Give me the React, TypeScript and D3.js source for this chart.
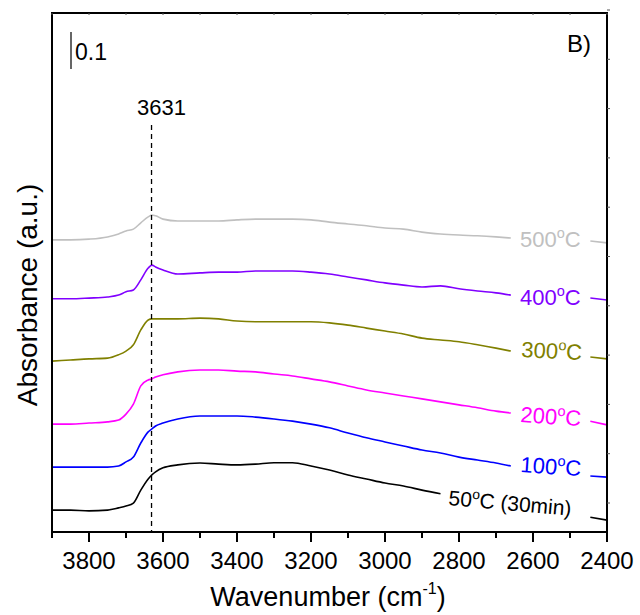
import React from "react";
import * as d3 from "d3";

// Wavenumber grid (cm-1) shared by all spectra
const wavenumbers = [3900, 3850, 3800, 3750, 3720, 3700, 3680, 3660, 3640, 3630, 3620, 3600, 3560, 3500, 3450, 3400, 3350, 3300, 3250, 3200, 3150, 3100, 3050, 3000, 2950, 2900, 2850, 2800, 2750, 2700, 2660];
const tailWavenumbers = [2445, 2400];

const seriesNames = ["500", "400", "300", "200", "100", "50"];
const seriesSuffix = ["", "", "", "", "", " (30min)"];
const seriesColors = ["#c0c0c0", "#8000ff", "#808000", "#ff00ff", "#0000ff", "#000000"];

const abs500 = [0.788, 0.788, 0.790, 0.796, 0.804, 0.812, 0.817, 0.834, 0.850, 0.855, 0.853, 0.844, 0.839, 0.839, 0.839, 0.842, 0.844, 0.844, 0.844, 0.842, 0.836, 0.831, 0.826, 0.820, 0.817, 0.809, 0.804, 0.801, 0.799, 0.796, 0.793];
const abs400 = [0.629, 0.629, 0.631, 0.634, 0.639, 0.648, 0.653, 0.680, 0.712, 0.720, 0.715, 0.707, 0.696, 0.699, 0.701, 0.701, 0.704, 0.704, 0.704, 0.701, 0.696, 0.688, 0.680, 0.672, 0.666, 0.661, 0.664, 0.656, 0.650, 0.645, 0.639];
const abs300 = [0.461, 0.464, 0.467, 0.469, 0.478, 0.488, 0.505, 0.545, 0.572, 0.575, 0.575, 0.575, 0.575, 0.577, 0.575, 0.569, 0.567, 0.567, 0.567, 0.567, 0.564, 0.558, 0.550, 0.542, 0.534, 0.523, 0.518, 0.513, 0.505, 0.496, 0.488];
const abs200 = [0.291, 0.291, 0.294, 0.297, 0.302, 0.318, 0.345, 0.394, 0.410, 0.413, 0.418, 0.424, 0.432, 0.437, 0.437, 0.434, 0.432, 0.426, 0.421, 0.413, 0.405, 0.394, 0.383, 0.375, 0.367, 0.359, 0.351, 0.343, 0.335, 0.326, 0.321];
const abs100 = [0.175, 0.175, 0.175, 0.175, 0.178, 0.189, 0.202, 0.240, 0.270, 0.278, 0.286, 0.294, 0.305, 0.313, 0.313, 0.313, 0.310, 0.305, 0.299, 0.291, 0.281, 0.267, 0.254, 0.243, 0.232, 0.221, 0.213, 0.202, 0.194, 0.186, 0.178];
const abs50 = [0.059, 0.059, 0.057, 0.059, 0.065, 0.070, 0.078, 0.113, 0.143, 0.154, 0.162, 0.173, 0.181, 0.186, 0.183, 0.181, 0.183, 0.187, 0.187, 0.178, 0.167, 0.154, 0.143, 0.132, 0.124, 0.113, 0.103, null, null, null, null];

const tail500 = [0.785, 0.780];
const tail400 = [0.631, 0.626];
const tail300 = [0.472, 0.467];
const tail200 = [0.299, 0.289];
const tail100 = [0.151, 0.148];
const tail50 = [0.040, 0.032];

const xTicksMajor = [3800, 3600, 3400, 3200, 3000, 2800, 2600, 2400];
const xTicksMinor = [3900, 3700, 3500, 3300, 3100, 2900, 2700, 2500];
const peakWavenumber = 3631;
const scaleBarValue = 0.1;

const allValues = [abs500, abs400, abs300, abs200, abs100, abs50];
const allTails = [tail500, tail400, tail300, tail200, tail100, tail50];

// layout
const W = 640, H = 615;
const left = 52, right = 607, top = 13, bottom = 532;
const FONT = "Liberation Sans, Arial, sans-serif";
// label layout: [x, baseline y, rotation, font size]
const labelLayout: [number, number, number, number][] = [
  [520, 247, 0, 22],
  [520, 305, 0, 22],
  [521, 357, 3, 22],
  [520, 422, 4, 22],
  [520, 472, 4, 22],
  [448, 505, 5, 21],
];

export default function App() {
  const x = d3.scaleLinear().domain([3900, 2400]).range([left, right]);
  const y = d3.scaleLinear().domain([0, 1.4]).range([bottom, top]);

  const line = d3
    .line<[number, number | null]>()
    .defined((d) => d[1] !== null)
    .x((d) => x(d[0]))
    .y((d) => y(d[1] as number))
    .curve(d3.curveMonotoneX);

  const rightTicks = d3.range(0, 11).map((i) => bottom - 29 - i * 49.3);

  return (
    <svg width={W} height={H} style={{ position: "absolute", left: 0, top: 0, background: "#fff" }} fontFamily={FONT}>
      {/* spectra */}
      {allValues.map((vals, i) => (
        <g key={i}>
          <path
            d={line(wavenumbers.map((w, j) => [w, vals[j]]) as any) || ""}
            fill="none"
            stroke={seriesColors[i]}
            strokeWidth={1.6}
          />
          <path
            d={line(tailWavenumbers.map((w, j) => [w, allTails[i][j]]) as any) || ""}
            fill="none"
            stroke={seriesColors[i]}
            strokeWidth={1.6}
          />
        </g>
      ))}

      {/* labels */}
      {seriesNames.map((n, i) => {
        const [lx, ly, rot, fs] = labelLayout[i];
        return (
          <text
            key={n}
            x={lx}
            y={ly}
            fill={seriesColors[i]}
            fontSize={fs}
            transform={`rotate(${rot},${lx},${ly})`}
          >
            <tspan>{n}</tspan>
            <tspan fontSize={fs * 0.66} dy={-fs * 0.4}>o</tspan>
            <tspan dy={fs * 0.4} fontSize={fs}>{"C" + seriesSuffix[i]}</tspan>
          </text>
        );
      })}

      {/* peak marker */}
      <line
        x1={x(peakWavenumber)}
        x2={x(peakWavenumber)}
        y1={125}
        y2={bottom}
        stroke="#000"
        strokeWidth={1.3}
        strokeDasharray="5,4"
      />
      <text x={x(peakWavenumber) + 10} y={115} fontSize={22} textAnchor="middle">
        {peakWavenumber}
      </text>

      {/* scale bar */}
      <line x1={71} x2={71} y1={32} y2={32 + (y(0) - y(scaleBarValue))} stroke="#333" strokeWidth={1.5} />
      <text x={75} y={60} fontSize={23}>
        {scaleBarValue}
      </text>

      <text x={567} y={52} fontSize={24}>B)</text>

      {/* frame */}
      <rect x={left} y={top} width={right - left} height={bottom - top} fill="none" stroke="#000" strokeWidth={2} />

      {/* top minor ticks */}
      {[...xTicksMajor, ...xTicksMinor].map((t) => (
        <line key={"tt" + t} x1={x(t)} x2={x(t)} y1={top} y2={top + 2} stroke="#555" strokeWidth={1} />
      ))}
      {/* right ticks */}
      {rightTicks.map((t, i) => (
        <line key={"rt" + i} x1={right} x2={right + 3} y1={t} y2={t} stroke="#555" strokeWidth={1} />
      ))}

      {/* bottom axis */}
      {xTicksMajor.map((t) => (
        <g key={"mj" + t}>
          <line x1={x(t)} x2={x(t)} y1={bottom} y2={bottom + 10} stroke="#000" strokeWidth={2} />
          <text x={x(t)} y={569} fontSize={24} textAnchor="middle">
            {t}
          </text>
        </g>
      ))}
      {xTicksMinor.map((t) => (
        <line key={"mn" + t} x1={x(t)} x2={x(t)} y1={bottom} y2={bottom + 6} stroke="#000" strokeWidth={2} />
      ))}

      {/* axis titles */}
      <text x={328} y={606} fontSize={27} textAnchor="middle">
        <tspan>Wavenumber (cm</tspan>
        <tspan fontSize={16} dy={-12}>-1</tspan>
        <tspan dy={12}>)</tspan>
      </text>
      <text transform="translate(37,295) rotate(-90)" fontSize={28} textAnchor="middle">
        Absorbance (a.u.)
      </text>
    </svg>
  );
}
